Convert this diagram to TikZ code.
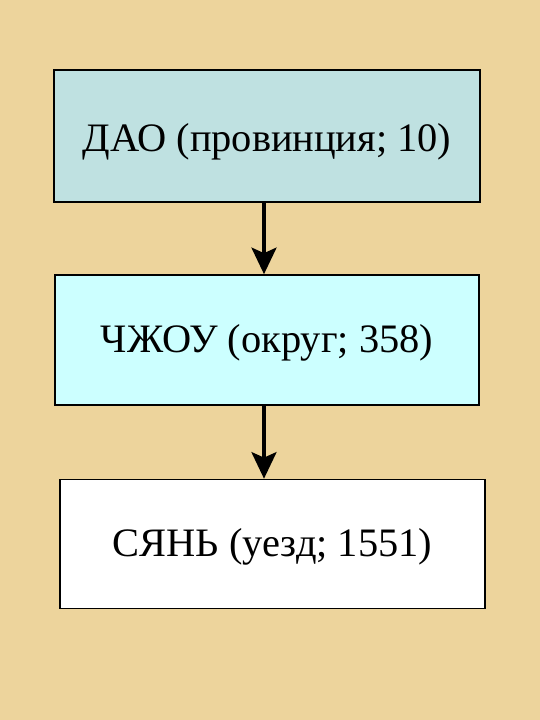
\documentclass[tikz,border=0pt]{standalone}
\usepackage{fontspec}
\setmainfont{Liberation Serif}
\usetikzlibrary{arrows.meta}

\definecolor{parchment}{HTML}{EDD49C}
\definecolor{daofill}{HTML}{BFE1E1}
\definecolor{zhoufill}{HTML}{CCFFFF}

\tikzset{
  level/.style={draw=black,line width=0.9pt,minimum width=8.5cm,minimum height=2.6cm,
    font=\fontsize{23}{27}\selectfont,inner sep=0pt,text height=19.4pt,text depth=5pt},
  down/.style={line width=2.8pt,-{Stealth[length=15pt,width=14pt,inset=3pt]}}
}

\begin{document}
\begin{tikzpicture}[x=0.02cm,y=-0.02cm]
\fill[parchment] (0,0) rectangle (540,720);
\useasboundingbox (0,0) rectangle (540,720);
\node[level,fill=daofill,minimum width=8.52cm,minimum height=2.64cm,text height=22.8pt] (dao) at (267,136) {ДАО (провинция; 10)};
\node[level,fill=zhoufill,minimum width=8.48cm,minimum height=2.6cm] (zhou) at (267,340) {ЧЖОУ (округ; 358)};
\node[level,fill=white,minimum width=8.5cm,minimum height=2.58cm] (xian) at (272.5,544) {СЯНЬ (уезд; 1551)};
\draw[down] ([xshift=-0.06cm]dao.south) -- ([xshift=-0.06cm]zhou.north);
\draw[down] ([xshift=-0.06cm]zhou.south) -- ([xshift=-0.06cm]zhou.south |- xian.north);

\end{tikzpicture}
\end{document}
